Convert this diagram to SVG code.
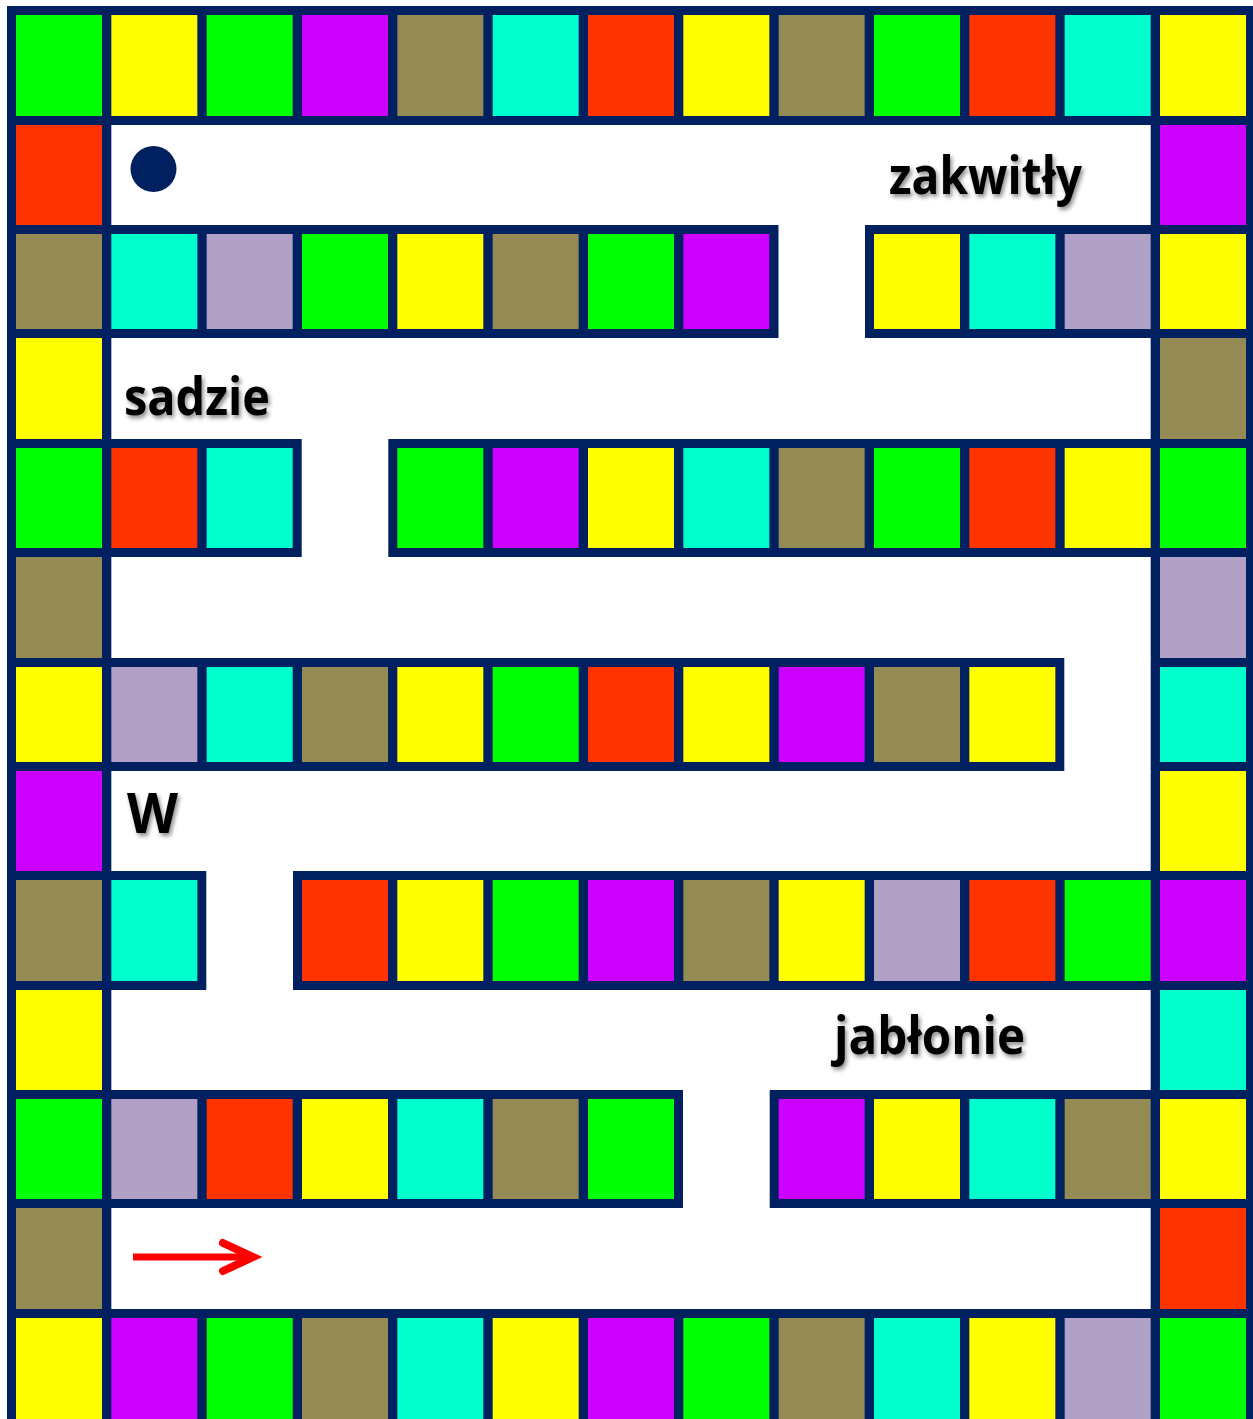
<svg xmlns="http://www.w3.org/2000/svg" width="1253" height="1419" viewBox="0 0 1253 1419">
<style>
.g{fill:#00FF00}.y{fill:#FFFF00}.p{fill:#CC00FF}.k{fill:#948A54}.c{fill:#00FFCC}.r{fill:#FF3300}.l{fill:#B2A1C7}
.w{fill:#FFFFFF}
.lbl{font-family:"Open Sans","Liberation Sans",sans-serif;font-weight:bold;fill:#000;filter:url(#sh)}
</style>
<defs>
<filter id="sh" x="-10%" y="-20%" width="130%" height="150%">
<feDropShadow dx="2" dy="3" stdDeviation="2" flood-color="#000" flood-opacity="0.45"/>
</filter>
</defs>
<rect width="1253" height="1419" fill="#FFFFFF"/>
<g id="board">
<rect x="7" y="6" width="1246" height="1413" fill="#002060"/>
</g>
<g id="corridors">
<rect class="w" x="111.33" y="125" width="1039.34" height="100"/>
<rect class="w" x="111.33" y="338" width="1039.34" height="101"/>
<rect class="w" x="111.33" y="557" width="1039.34" height="101"/>
<rect class="w" x="111.33" y="771" width="1039.34" height="100"/>
<rect class="w" x="111.33" y="990" width="1039.34" height="100"/>
<rect class="w" x="111.33" y="1208" width="1039.34" height="101"/>
<rect class="w" x="778.5" y="224" width="86.5" height="115"/>
<rect class="w" x="301.7" y="438" width="86.6" height="120"/>
<rect class="w" x="1064.3" y="657" width="86.4" height="115"/>
<rect class="w" x="206.3" y="870" width="86.7" height="121"/>
<rect class="w" x="683" y="1089" width="86.7" height="120"/>
</g>
<g id="row0">
<rect class="g" x="16" y="15" width="86" height="101"/>
<rect class="y" x="111.33" y="15" width="86" height="101"/>
<rect class="g" x="206.67" y="15" width="86" height="101"/>
<rect class="p" x="302" y="15" width="86" height="101"/>
<rect class="k" x="397.33" y="15" width="86" height="101"/>
<rect class="c" x="492.67" y="15" width="86" height="101"/>
<rect class="r" x="588" y="15" width="86" height="101"/>
<rect class="y" x="683.33" y="15" width="86" height="101"/>
<rect class="k" x="778.67" y="15" width="86" height="101"/>
<rect class="g" x="874" y="15" width="86" height="101"/>
<rect class="r" x="969.33" y="15" width="86" height="101"/>
<rect class="c" x="1064.67" y="15" width="86" height="101"/>
<rect class="y" x="1160" y="15" width="86" height="101"/>
</g>
<g id="row1">
<rect class="r" x="16" y="125" width="86" height="100"/>
<rect class="p" x="1160" y="125" width="86" height="100"/>
</g>
<g id="row2">
<rect class="k" x="16" y="234" width="86" height="95"/>
<rect class="c" x="111.33" y="234" width="86" height="95"/>
<rect class="l" x="206.67" y="234" width="86" height="95"/>
<rect class="g" x="302" y="234" width="86" height="95"/>
<rect class="y" x="397.33" y="234" width="86" height="95"/>
<rect class="k" x="492.67" y="234" width="86" height="95"/>
<rect class="g" x="588" y="234" width="86" height="95"/>
<rect class="p" x="683.33" y="234" width="86" height="95"/>
<rect class="y" x="874" y="234" width="86" height="95"/>
<rect class="c" x="969.33" y="234" width="86" height="95"/>
<rect class="l" x="1064.67" y="234" width="86" height="95"/>
<rect class="y" x="1160" y="234" width="86" height="95"/>
</g>
<g id="row3">
<rect class="y" x="16" y="338" width="86" height="101"/>
<rect class="k" x="1160" y="338" width="86" height="101"/>
</g>
<g id="row4">
<rect class="g" x="16" y="448" width="86" height="100"/>
<rect class="r" x="111.33" y="448" width="86" height="100"/>
<rect class="c" x="206.67" y="448" width="86" height="100"/>
<rect class="g" x="397.33" y="448" width="86" height="100"/>
<rect class="p" x="492.67" y="448" width="86" height="100"/>
<rect class="y" x="588" y="448" width="86" height="100"/>
<rect class="c" x="683.33" y="448" width="86" height="100"/>
<rect class="k" x="778.67" y="448" width="86" height="100"/>
<rect class="g" x="874" y="448" width="86" height="100"/>
<rect class="r" x="969.33" y="448" width="86" height="100"/>
<rect class="y" x="1064.67" y="448" width="86" height="100"/>
<rect class="g" x="1160" y="448" width="86" height="100"/>
</g>
<g id="row5">
<rect class="k" x="16" y="557" width="86" height="101"/>
<rect class="l" x="1160" y="557" width="86" height="101"/>
</g>
<g id="row6">
<rect class="y" x="16" y="667" width="86" height="95"/>
<rect class="l" x="111.33" y="667" width="86" height="95"/>
<rect class="c" x="206.67" y="667" width="86" height="95"/>
<rect class="k" x="302" y="667" width="86" height="95"/>
<rect class="y" x="397.33" y="667" width="86" height="95"/>
<rect class="g" x="492.67" y="667" width="86" height="95"/>
<rect class="r" x="588" y="667" width="86" height="95"/>
<rect class="y" x="683.33" y="667" width="86" height="95"/>
<rect class="p" x="778.67" y="667" width="86" height="95"/>
<rect class="k" x="874" y="667" width="86" height="95"/>
<rect class="y" x="969.33" y="667" width="86" height="95"/>
<rect class="c" x="1160" y="667" width="86" height="95"/>
</g>
<g id="row7">
<rect class="p" x="16" y="771" width="86" height="100"/>
<rect class="y" x="1160" y="771" width="86" height="100"/>
</g>
<g id="row8">
<rect class="k" x="16" y="880" width="86" height="101"/>
<rect class="c" x="111.33" y="880" width="86" height="101"/>
<rect class="r" x="302" y="880" width="86" height="101"/>
<rect class="y" x="397.33" y="880" width="86" height="101"/>
<rect class="g" x="492.67" y="880" width="86" height="101"/>
<rect class="p" x="588" y="880" width="86" height="101"/>
<rect class="k" x="683.33" y="880" width="86" height="101"/>
<rect class="y" x="778.67" y="880" width="86" height="101"/>
<rect class="l" x="874" y="880" width="86" height="101"/>
<rect class="r" x="969.33" y="880" width="86" height="101"/>
<rect class="g" x="1064.67" y="880" width="86" height="101"/>
<rect class="p" x="1160" y="880" width="86" height="101"/>
</g>
<g id="row9">
<rect class="y" x="16" y="990" width="86" height="100"/>
<rect class="c" x="1160" y="990" width="86" height="100"/>
</g>
<g id="row10">
<rect class="g" x="16" y="1099" width="86" height="100"/>
<rect class="l" x="111.33" y="1099" width="86" height="100"/>
<rect class="r" x="206.67" y="1099" width="86" height="100"/>
<rect class="y" x="302" y="1099" width="86" height="100"/>
<rect class="c" x="397.33" y="1099" width="86" height="100"/>
<rect class="k" x="492.67" y="1099" width="86" height="100"/>
<rect class="g" x="588" y="1099" width="86" height="100"/>
<rect class="p" x="778.67" y="1099" width="86" height="100"/>
<rect class="y" x="874" y="1099" width="86" height="100"/>
<rect class="c" x="969.33" y="1099" width="86" height="100"/>
<rect class="k" x="1064.67" y="1099" width="86" height="100"/>
<rect class="y" x="1160" y="1099" width="86" height="100"/>
</g>
<g id="row11">
<rect class="k" x="16" y="1208" width="86" height="101"/>
<rect class="r" x="1160" y="1208" width="86" height="101"/>
</g>
<g id="row12">
<rect class="y" x="16" y="1318" width="86" height="101"/>
<rect class="p" x="111.33" y="1318" width="86" height="101"/>
<rect class="g" x="206.67" y="1318" width="86" height="101"/>
<rect class="k" x="302" y="1318" width="86" height="101"/>
<rect class="c" x="397.33" y="1318" width="86" height="101"/>
<rect class="y" x="492.67" y="1318" width="86" height="101"/>
<rect class="p" x="588" y="1318" width="86" height="101"/>
<rect class="g" x="683.33" y="1318" width="86" height="101"/>
<rect class="k" x="778.67" y="1318" width="86" height="101"/>
<rect class="c" x="874" y="1318" width="86" height="101"/>
<rect class="y" x="969.33" y="1318" width="86" height="101"/>
<rect class="l" x="1064.67" y="1318" width="86" height="101"/>
<rect class="g" x="1160" y="1318" width="86" height="101"/>
</g>
<g id="token">
<circle cx="153.5" cy="169" r="23" fill="#002060"/>
</g>
<g id="labels">
<text class="lbl" x="889" y="194" font-size="52" textLength="193" lengthAdjust="spacingAndGlyphs">zakwitły</text>
<text class="lbl" x="124" y="415" font-size="52" textLength="146" lengthAdjust="spacingAndGlyphs">sadzie</text>
<text class="lbl" x="127" y="833" font-size="56" textLength="51" lengthAdjust="spacingAndGlyphs">W</text>
<text class="lbl" x="834" y="1054" font-size="52" textLength="191" lengthAdjust="spacingAndGlyphs">jabłonie</text>
</g>
<g id="connectors">
<line x1="133" y1="1257" x2="250" y2="1257" stroke="#FF0000" stroke-width="7"/>
<polyline points="223,1243 253,1257 223,1271" fill="none" stroke="#FF0000" stroke-width="8" stroke-linecap="round" stroke-linejoin="miter"/>
</g>
</svg>
